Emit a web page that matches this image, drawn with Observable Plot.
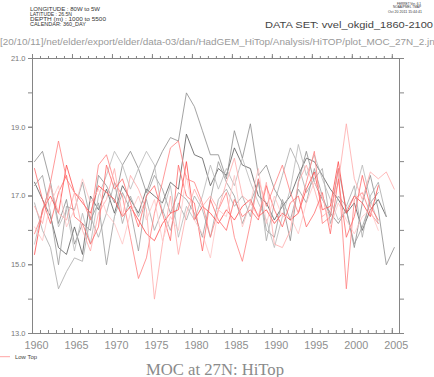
<!DOCTYPE html>
<html>
<head>
<meta charset="utf-8">
<script src="https://cdn.jsdelivr.net/npm/d3@7"></script>
<script src="https://cdn.jsdelivr.net/npm/@observablehq/plot@0.6"></script>
<style>
  html, body { margin: 0; padding: 0; background: #fff; }
  svg { display: block; }
</style>
</head>
<body>
<div id="chart"></div>
<script>
// ---- data ----
const years = [1960,1961,1962,1963,1964,1965,1966,1967,1968,1969,
               1970,1971,1972,1973,1974,1975,1976,1977,1978,1979,
               1980,1981,1982,1983,1984,1985,1986,1987,1988,1989,
               1990,1991,1992,1993,1994,1995,1996,1997,1998,1999,
               2000,2001,2002,2003,2004,2005];

const hiTop1 = [17.4,16.9,16.4,15.5,15.3,16.1,15.3,17.0,16.6,17.2,
                16.5,17.3,16.9,16.5,17.2,17.0,16.8,17.4,17.2,18.8,
                18.2,18.1,17.3,17.8,17.6,18.4,17.9,17.8,17.0,16.8,
                16.3,16.7,17.0,17.6,18.1,18.0,17.6,17.2,16.9,16.5,
                16.8,16.0,16.6,16.9,16.4];
const hiTop2 = [18.0,18.3,17.4,16.2,16.9,15.6,16.2,16.0,17.6,17.3,
                16.8,17.9,18.3,17.8,17.1,17.8,18.3,18.7,18.6,20.0,
                19.6,18.9,18.2,18.2,17.5,18.9,18.1,19.1,17.6,17.9,
                17.2,16.8,15.7,17.4,18.3,17.4,16.9,16.5,16.2,16.6,
                15.5,16.8,17.6,16.6,15.0,15.5];
const hiTop3 = [16.8,16.0,15.5,14.3,14.8,15.2,15.1,16.4,15.8,16.5,
                17.4,16.2,17.0,16.4,16.9,16.0,16.6,16.0,16.8,16.3,
                17.0,16.6,15.8,16.9,17.2,16.7,17.0,16.4,17.5,15.7,
                16.8,17.6,18.4,17.9,17.1,17.5,17.8,16.2,17.0,16.7,
                17.3,15.8,17.0,17.4,16.4];
const hiTop4 = [17.3,17.6,16.5,15.0,16.7,16.6,17.4,16.3,16.8,15.0,
                16.4,17.1,16.6,15.4,17.0,17.6,17.2,16.5,17.1,16.9,
                16.5,15.8,16.9,18.0,17.4,17.0,16.2,16.8,17.4,16.0,
                15.8,16.9,16.3,17.2,16.8,17.8,17.0,16.4,17.8,16.6,
                15.6,16.1,16.8,17.1];
const hiTop5 = [15.6,16.6,17.3,16.1,16.6,15.4,16.5,15.6,17.0,17.6,
                18.3,17.9,17.2,17.8,18.3,17.9,16.5,17.3,15.8,16.7,
                16.3,17.0,17.9,17.2,17.8,17.3,18.1,17.4,16.8,16.3,
                15.5,16.4,17.2,18.5,17.6,18.2,17.5,16.9,16.3,16.6,
                17.0,17.9,16.9,16.2];

const lowTop1 = [15.3,16.6,17.0,16.5,17.9,17.1,16.8,16.5,17.3,17.1,
                 16.9,16.4,16.7,16.3,15.9,15.7,16.2,16.5,16.6,18.0,
                 16.3,16.7,16.5,16.2,16.6,16.3,16.7,16.9,16.4,16.6,
                 16.2,16.5,16.3,16.5,17.2,17.7,16.6,16.7,18.0,16.5,
                 17.0,16.8,16.4,17.3];
const lowTop2 = [15.9,16.5,17.4,18.6,17.5,17.1,16.9,16.3,17.9,18.2,
                 17.4,17.0,15.8,14.6,15.2,16.5,17.4,18.4,18.6,17.5,
                 17.4,16.8,15.8,16.6,17.1,15.8,15.1,16.2,17.5,16.7,
                 17.3,17.9,17.1,16.5,17.4,18.3,16.2,16.4,17.8,14.3,
                 16.9,17.1,16.5,16.2];
const lowTop3 = [16.7,16.2,17.3,16.5,16.3,17.1,16.0,15.4,16.5,16.9,
                 17.8,16.4,17.6,17.2,16.6,14.0,15.6,17.0,15.3,16.5,
                 17.2,16.7,17.0,16.6,17.4,18.1,17.0,16.8,16.4,17.4,
                 15.6,15.5,16.0,17.4,17.9,17.2,16.4,16.6,17.4,19.1,
                 17.5,16.9,17.7,17.5,17.7,17.2];
const lowTop4 = [17.8,16.9,16.2,17.1,17.6,16.4,16.2,15.6,16.1,17.9,
                 17.2,17.5,16.8,16.1,17.0,17.3,16.5,15.7,17.9,17.0,
                 16.8,15.4,16.9,16.3,16.0,16.9,16.4,16.6,16.3,17.3,
                 16.6,16.1,16.8,17.0,16.1,16.5,17.1,15.9,17.5,15.8,
                 16.4,17.6,16.7,16.3];
const lowTop5 = [16.1,15.7,16.8,17.3,16.1,16.6,17.5,16.8,17.2,16.5,
                 16.2,15.6,16.5,17.0,16.3,16.9,15.7,16.4,16.0,17.6,
                 16.3,15.9,15.2,16.6,16.4,17.6,16.1,16.8,17.8,16.2,
                 17.0,16.4,16.4,15.9,16.8,17.4,17.0,16.1,16.8,16.3,
                 15.9,16.4,16.6,16.0];

const seriesNames = ["hi1","hi2","hi3","hi4","hi5","lo1","lo2","lo3","lo4","lo5"];
const seriesValues = [hiTop1,hiTop2,hiTop3,hiTop4,hiTop5,lowTop1,lowTop2,lowTop3,lowTop4,lowTop5];

const yMajorTicks = [13,15,17,19,21];
const yAllTicks = [13,14,15,16,17,18,19,20,21];
const xMajorTicks = [1960,1965,1970,1975,1980,1985,1990,1995,2000,2005];
const xMinorTicks = years;

// ---- build table ----
const table = [];
seriesNames.forEach((name, s) => {
  seriesValues[s].forEach((v, i) => table.push({series: name, year: years[i], value: v}));
});

const colors = ["#5a5a5a","#8c8c8c","#a8a8a8","#9a9a9a","#b8b8b8",
                "#ff4a4a","#ff8080","#ffaaaa","#ff6a6a","#ffc4c4"];

const axisColor = "#858585";

const chart = Plot.plot({
  width: 434,
  height: 377,
  marginLeft: 32,
  marginRight: 35,
  marginTop: 58,
  marginBottom: 44,
  style: {fontFamily: "Liberation Sans, Arial, sans-serif", background: "#fff"},
  x: {domain: [1960, 2005.9], label: null},
  y: {domain: [13, 21], label: null},
  color: {domain: seriesNames, range: colors},
  marks: [
    Plot.line(table, {x: d => d.year + 0.25, y: "value", z: "series", stroke: "series", strokeWidth: 0.8}),
    Plot.frame({stroke: axisColor, strokeWidth: 1}),
    // bottom ticks (inward)
    Plot.axisX(xMinorTicks, {anchor: "bottom", tickSize: -3, text: null, stroke: axisColor, label: null}),
    Plot.axisX(xMajorTicks, {anchor: "bottom", tickSize: -5, text: null, stroke: axisColor, label: null}),
    // bottom labels (centered on year interval)
    Plot.axisX(xMajorTicks.map(y => y + 0.5), {anchor: "bottom", tickSize: 0, tickPadding: 8, label: null,
      tickFormat: d => String(Math.floor(d)), fontSize: 10.8, fill: "#8e8e8e"}),
    // top ticks (outward)
    Plot.axisX(xMinorTicks, {anchor: "top", tickSize: 3, text: null, stroke: axisColor, label: null}),
    Plot.axisX(xMajorTicks, {anchor: "top", tickSize: 5, text: null, stroke: axisColor, label: null}),
    // left
    Plot.axisY(yAllTicks, {anchor: "left", tickSize: 4, text: null, stroke: axisColor, label: null}),
    Plot.axisY(yMajorTicks, {anchor: "left", tickSize: 4, tickPadding: 3, tickFormat: d => d.toFixed(1),
      fontSize: 7.5, fill: "#777", stroke: axisColor, label: null}),
    // right
    Plot.axisY(yAllTicks, {anchor: "right", tickSize: 4, text: null, stroke: axisColor, label: null})
  ]
});

document.getElementById("chart").appendChild(chart);

// ---- annotation texts ----
const svg = d3.select(chart);
const addText = (str, x, y, size, color, opts = {}) => {
  const t = svg.append("text")
    .attr("x", x).attr("y", y)
    .attr("font-size", size)
    .attr("fill", color)
    .attr("font-family", opts.family || "Liberation Sans, Arial, sans-serif")
    .attr("text-anchor", opts.anchor || "start")
    .text(str);
  if (opts.len) t.attr("textLength", opts.len).attr("lengthAdjust", "spacingAndGlyphs");
  return t;
};

addText("LONGITUDE : 80W to 5W", 30, 11, 5.5, "#333", {len: 70});
addText("LATITUDE : 26.5N", 30, 16, 5.5, "#333", {len: 42});
addText("DEPTH (m) : 1000 to 5500", 30, 21, 5.5, "#333", {len: 76});
addText("CALENDAR: 360_DAY", 30, 26, 5.5, "#333", {len: 56});

addText("FERRET Ver. 6.1", 397, 4.5, 4, "#333", {len: 24});
addText("NOAA/PMEL TMAP", 393, 8, 4, "#333", {len: 28});
addText("Oct 20 2011 15:44:41", 388, 12.5, 4, "#333", {len: 34});

addText("DATA SET: vvel_okgid_1860-2100", 265, 27.5, 9.5, "#444", {len: 168});
addText("[20/10/11]/net/elder/export/elder/data-03/dan/HadGEM_HiTop/Analysis/HiTOP/plot_MOC_27N_2.jnl",
  0, 45, 9, "#9a9a9a", {len: 437});

addText("MOC at 27N: HiTop", 146, 375, 16, "#8a8a8a", {family: "Liberation Serif, Times New Roman, serif", len: 138});

svg.append("line").attr("x1", 0).attr("x2", 10).attr("y1", 356.7).attr("y2", 356.7)
  .attr("stroke", "#ff9a9a").attr("stroke-width", 0.9);
addText("Low Top", 15, 358.7, 5.5, "#444", {len: 22});
</script>
</body>
</html>
